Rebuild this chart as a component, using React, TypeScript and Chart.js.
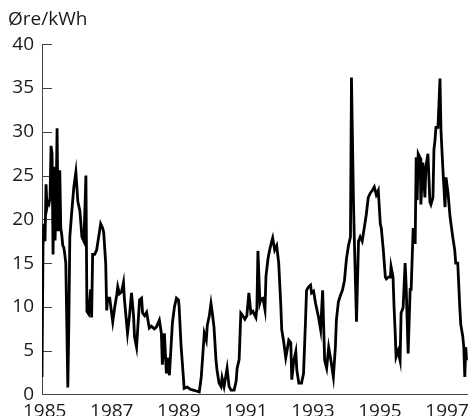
import React, { useEffect, useRef } from "react";
import { Chart, registerables } from "chart.js";

Chart.register(...registerables);

// Decimal-year dates of the observations and the price (øre/kWh) at each date
const years = [
  1984.92, 1984.95, 1984.98, 1985.01, 1985.04, 1985.07, 1985.1, 1985.13, 1985.16, 1985.19,
  1985.22, 1985.25, 1985.28, 1985.31, 1985.34, 1985.37, 1985.4, 1985.42, 1985.45, 1985.48,
  1985.51, 1985.54, 1985.57, 1985.6, 1985.63, 1985.66, 1985.69, 1985.72, 1985.75, 1985.81,
  1985.87, 1985.93, 1985.99, 1986.05, 1986.11, 1986.17, 1986.23, 1986.26, 1986.31, 1986.37,
  1986.4, 1986.43, 1986.49, 1986.55, 1986.61, 1986.67, 1986.73, 1986.76, 1986.82, 1986.85,
  1986.88, 1986.94, 1987.03, 1987.09, 1987.15, 1987.18, 1987.23, 1987.29, 1987.35, 1987.38,
  1987.47, 1987.53, 1987.59, 1987.65, 1987.68, 1987.74, 1987.83, 1987.89, 1987.92, 1987.98,
  1988.04, 1988.12, 1988.18, 1988.27, 1988.33, 1988.42, 1988.48, 1988.51, 1988.57, 1988.63,
  1988.66, 1988.72, 1988.81, 1988.87, 1988.93, 1988.99, 1989.01, 1989.07, 1989.1, 1989.16,
  1989.25, 1989.34, 1989.43, 1989.52, 1989.61, 1989.67, 1989.76, 1989.82, 1989.85, 1989.91,
  1989.96, 1989.99, 1990.05, 1990.11, 1990.14, 1990.2, 1990.26, 1990.29, 1990.35, 1990.44,
  1990.5, 1990.56, 1990.65, 1990.71, 1990.74, 1990.8, 1990.85, 1990.91, 1990.97, 1991.03,
  1991.09, 1991.15, 1991.21, 1991.3, 1991.33, 1991.36, 1991.42, 1991.45, 1991.51, 1991.57,
  1991.6, 1991.66, 1991.71, 1991.77, 1991.8, 1991.86, 1991.92, 1991.98, 1992.04, 1992.07,
  1992.13, 1992.19, 1992.25, 1992.28, 1992.34, 1992.37, 1992.43, 1992.49, 1992.52, 1992.58,
  1992.66, 1992.72, 1992.78, 1992.81, 1992.87, 1992.93, 1992.96, 1993.02, 1993.08, 1993.17,
  1993.23, 1993.29, 1993.35, 1993.41, 1993.47, 1993.52, 1993.61, 1993.67, 1993.7, 1993.76,
  1993.82, 1993.88, 1993.94, 1994.0, 1994.06, 1994.12, 1994.15, 1994.21, 1994.24, 1994.3,
  1994.36, 1994.41, 1994.47, 1994.53, 1994.59, 1994.65, 1994.71, 1994.77, 1994.83, 1994.89,
  1994.95, 1995.01, 1995.04, 1995.1, 1995.16, 1995.19, 1995.25, 1995.31, 1995.33, 1995.39,
  1995.42, 1995.45, 1995.48, 1995.54, 1995.6, 1995.63, 1995.69, 1995.75, 1995.78, 1995.84,
  1995.9, 1995.93, 1995.99, 1996.05, 1996.08, 1996.11, 1996.14, 1996.2, 1996.22, 1996.28,
  1996.34, 1996.37, 1996.43, 1996.49, 1996.52, 1996.58, 1996.61, 1996.64, 1996.67, 1996.73,
  1996.79, 1996.82, 1996.88, 1996.94, 1996.97, 1997.03, 1997.09, 1997.17, 1997.23, 1997.26,
  1997.32, 1997.38, 1997.41, 1997.47, 1997.5, 1997.53, 1997.56, 1997.59,
];

const prices = [
  2.0, 17, 19.5, 17.5, 24, 21.4, 22, 21.8, 22.5, 28.4,
  27.5, 16, 26, 17.6, 22, 30.4, 18.8, 20, 25.6, 19,
  18.2, 17, 16.8, 16, 15, 8, 0.8, 8, 18, 21,
  23.7, 25.4, 22, 21, 18, 17.5, 25, 9.5, 9.2, 12,
  8.8, 16, 16, 16.5, 18, 19.5, 19, 18.5, 15, 9.6,
  11, 11, 8.3, 10, 11.4, 12.3, 11.5, 11.7, 12.8, 10.8,
  7, 9, 11.6, 9, 6.6, 5.4, 10.8, 11, 9.3, 9.0,
  9.4, 7.6, 7.8, 7.5, 7.7, 8.5, 7, 3.4, 7, 2.4,
  4.2, 2.2, 8.2, 10, 11, 10.8, 10, 5.4, 3.9, 0.7,
  0.85, 0.6, 0.5, 0.4, 0.3, 2, 7, 6.2, 7.9, 9,
  10.4, 9.6, 7.7, 3.9, 2.8, 1.3, 0.9, 1.9, 0.9, 3,
  0.9, 0.5, 0.5, 1.5, 3, 4, 9.3, 9, 8.6, 9,
  11.6, 9.3, 9.5, 8.8, 9.9, 16.4, 10.5, 10.9, 11, 9.7,
  13.5, 15.5, 16.5, 17.5, 17.9, 16.5, 17, 15, 10.4, 7.4,
  6, 4.2, 5.5, 6.2, 5.9, 1.7, 3.9, 4.9, 2.8, 1.3,
  1.3, 2.4, 8.5, 11.9, 12.3, 12.5, 11.6, 11.8, 10.4, 8.8,
  7.4, 11.9, 3.9, 3, 5.4, 4.3, 2, 5.4, 8.5, 10.6,
  11.3, 11.9, 13, 15.5, 17, 18, 36.2, 22, 17, 8.3,
  17.5, 18, 17.5, 19, 20.5, 22.5, 23, 23.3, 23.7, 22.8,
  23.3, 19.5, 19, 16.5, 13.4, 13.2, 13.4, 13.4, 14.6, 13.4,
  10, 7.4, 4.3, 5, 3.9, 9.3, 9.9, 15, 12.5, 4.7,
  12, 12, 19, 17.2, 27.1, 22.2, 27.5, 27, 21.7, 26.5,
  22.5, 26, 27.5, 22, 21.7, 22.5, 28, 29, 30.5, 30.5,
  36.1, 30.1, 25.5, 21.4, 24.8, 23, 20.3, 18, 16.5, 15,
  15, 10, 8, 6.6, 5.4, 2, 5.4, 3.9,
];

const xTickYears = [1985, 1987, 1989, 1991, 1993, 1995, 1997];
const yTickValues = [0, 5, 10, 15, 20, 25, 30, 35, 40];
const unitLabel = "Øre/kWh";

const FONT = "'Open Sans', 'Noto Sans', sans-serif";
const TEXT = "#1a1a1a";
const AXIS = "#444";

export default function App() {
  const ref = useRef<HTMLCanvasElement | null>(null);

  useEffect(() => {
    if (!ref.current) return;
    const inwardTicks = {
      id: "inwardTicks",
      beforeDatasetsDraw(chart: any) {
        const { ctx, chartArea, scales } = chart;
        const y = scales.y;
        ctx.save();
        ctx.strokeStyle = AXIS;
        ctx.lineWidth = 1;
        y.ticks.forEach((t: any) => {
          if (t.value === 0) return;
          const py = Math.round(y.getPixelForValue(t.value)) + 0.5;
          ctx.beginPath();
          ctx.moveTo(chartArea.left, py);
          ctx.lineTo(chartArea.left + 10, py);
          ctx.stroke();
        });
        ctx.restore();
      },
    };

    const chart = new Chart(ref.current, {
      type: "line",
      data: {
        datasets: [
          {
            data: years.map((x, i) => ({ x, y: prices[i] })),
            borderColor: "#000",
            borderWidth: 2.8,
            pointRadius: 0,
            tension: 0,
            fill: false,
          },
        ],
      },
      options: {
        animation: false,
        responsive: false,
        layout: { padding: { left: 8, right: 5, top: 0, bottom: 0 } },
        plugins: {
          legend: { display: false },
          tooltip: { enabled: false },
          title: {
            display: true,
            text: unitLabel,
            align: "start",
            color: TEXT,
            font: { family: FONT, size: 19, weight: "normal" },
            padding: { top: 8.2, bottom: 13.3 },
          },
        },
        scales: {
          x: {
            type: "linear",
            min: 1984.92,
            max: 1997.62,
            afterBuildTicks: (s: any) => {
              s.ticks = xTickYears.map((v) => ({ value: v }));
            },
            afterFit: (s: any) => {
              s.height = 21.5;
            },
            grid: { display: false, drawTicks: false },
            border: { display: true, color: AXIS, width: 1 },
            ticks: {
              autoSkip: false,
              maxRotation: 0,
              padding: 6,
              color: TEXT,
              font: { family: FONT, size: 19 },
              callback: (v: any) => String(v),
            },
          },
          y: {
            type: "linear",
            min: 0,
            max: 40,
            afterBuildTicks: (s: any) => {
              s.ticks = yTickValues.map((v) => ({ value: v }));
            },
            afterFit: (s: any) => {
              s.width = 34;
            },
            grid: { display: false, drawTicks: false },
            border: { display: true, color: AXIS, width: 1 },
            ticks: {
              padding: 8,
              color: TEXT,
              font: { family: FONT, size: 19 },
              callback: (v: any) => String(v),
            },
          },
        },
      },
      plugins: [inwardTicks],
    } as any);

    return () => chart.destroy();
  }, []);

  return (
    <div style={{ position: "fixed", left: 0, top: 0, width: 475, height: 416, background: "#fff" }}>
      <canvas ref={ref} width={475} height={416} style={{ display: "block" }} />
    </div>
  );
}
